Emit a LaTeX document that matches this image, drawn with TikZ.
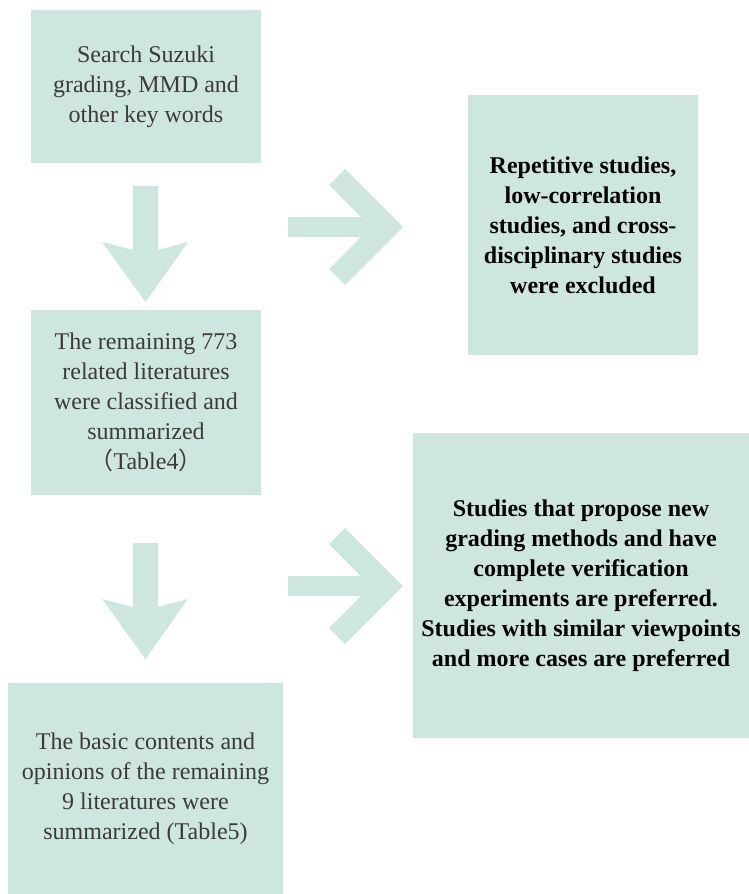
\documentclass[tikz,border=0pt]{standalone}
\usepackage{fontspec}
\setmainfont{LiberationSerif}[Extension=.ttf, UprightFont=*-Regular, BoldFont=*-Bold, ItalicFont=*-Italic, BoldItalicFont=*-BoldItalic]
\newfontfamily\cjkfont{Noto Sans CJK SC}
\definecolor{boxfill}{RGB}{205,230,223}
\definecolor{ltext}{RGB}{62,58,56}
\begin{document}
\begin{tikzpicture}[x=1pt,y=-1pt,
  box/.style={fill=boxfill, draw=none, inner sep=0pt, align=center},
  lbox/.style={box, text=ltext, font=\fontsize{24}{30}\selectfont},
  rbox/.style={box, text=black, font=\fontsize{24}{30}\selectfont\bfseries},
  blockarrow/.style={fill=boxfill, draw=none}]
\useasboundingbox (0,0) rectangle (749,894);
% boxes
\node[lbox, minimum width=230pt, minimum height=153pt] (search) at (146,86.5)
  {Search Suzuki\\grading, MMD and\\other key words};
\node[lbox, minimum width=230pt, minimum height=185pt] (remain) at (146,402.5)
  {The remaining 773\\related literatures\\were classified and\\summarized\\{\cjkfont （}Table4{\cjkfont ）}};
\node[lbox, minimum width=275pt, minimum height=211pt] (basic) at (145.5,788.5)
  {The basic contents and\\opinions of the remaining\\9 literatures were\\summarized (Table5)};
\node[rbox, minimum width=230pt, minimum height=260pt] (excl) at (583,225)
  {Repetitive studies,\\low-correlation\\studies, and cross-\\disciplinary studies\\were excluded};
\node[rbox, minimum width=336pt, minimum height=305pt] (pref) at (581,585.5)
  {Studies that propose new\\grading methods and have\\complete verification\\experiments are preferred.\\Studies with similar viewpoints\\and more cases are preferred};
% down arrows
\foreach \dy/\nm in {0/down1, 357/down2}{
  \fill[blockarrow] (133,186+\dy) -- (158,186+\dy) -- (158,250+\dy) -- (188,242+\dy)
    -- (145.5,302+\dy) -- (102,242+\dy) -- (133,250+\dy) -- cycle;
}
% right arrows
\foreach \dy/\nm in {0/right1, 359/right2}{
  \fill[blockarrow] (288,217+\dy) -- (361,217+\dy) -- (329,185+\dy) -- (345,169+\dy)
    -- (403,227+\dy) -- (345,285+\dy) -- (329,269+\dy) -- (361,237+\dy)
    -- (288,237+\dy) -- cycle;
}
\end{tikzpicture}
\end{document}
